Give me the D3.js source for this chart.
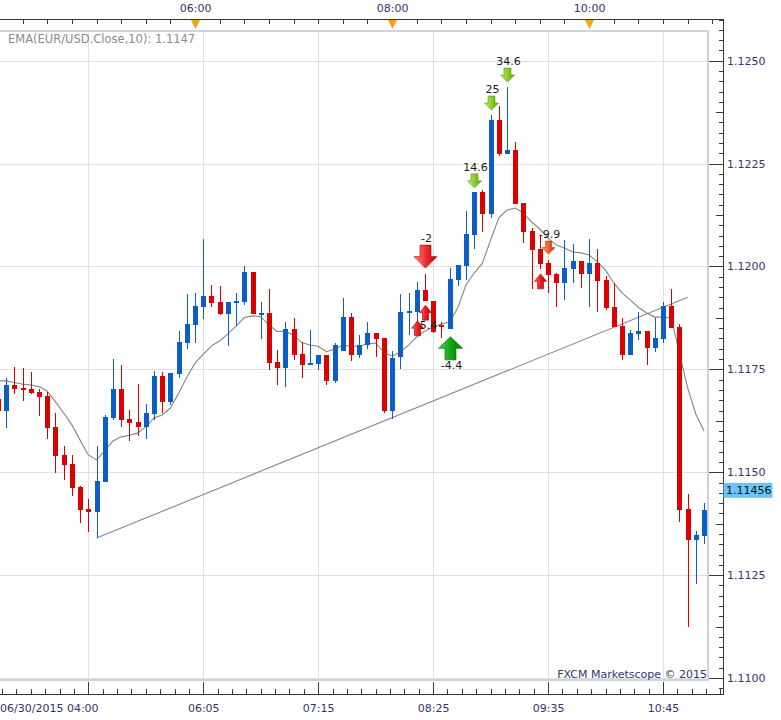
<!DOCTYPE html>
<html>
<head>
<meta charset="utf-8">
<script src="https://cdn.jsdelivr.net/npm/d3@7"></script>
<style>
  body { margin: 0; background: #fff; }
  svg { display: block; font-family: "DejaVu Sans", Verdana, sans-serif; }
</style>
</head>
<body>
<div id="chart"></div>
<script>
// EUR/USD 5 minute candles, 06/30/2015 from 04:00
var startTime = "2015-06-30T04:00";

var opens = [1.11678, 1.11649, 1.11712, 1.11705, 1.11702, 1.11695, 1.11685, 1.11610, 1.11542, 1.11520,
  1.11464, 1.11411, 1.11403, 1.11476, 1.11632, 1.11702, 1.11629, 1.11622, 1.11610, 1.11641,
  1.11734, 1.11671, 1.11739, 1.11814, 1.11858, 1.11901, 1.11928, 1.11914, 1.11884, 1.11911,
  1.11914, 1.11987, 1.11882, 1.11887, 1.11768, 1.11753, 1.11848, 1.11787, 1.11761, 1.11763,
  1.11785, 1.11722, 1.11795, 1.11877, 1.11785, 1.11809, 1.11838, 1.11826, 1.11649, 1.11780,
  1.11887, 1.11889, 1.11943, 1.11916, 1.11858, 1.11848, 1.11967, 1.12001, 1.12076, 1.12181,
  1.12127, 1.12356, 1.12273, 1.12283, 1.12154, 1.12086, 1.12042, 1.12008, 1.11982, 1.11960,
  1.11994, 1.12013, 1.11982, 1.12008, 1.11967, 1.11901, 1.11855, 1.11785, 1.11836, 1.11843,
  1.11802, 1.11824, 1.11904, 1.11853, 1.11411, 1.11335, 1.11345];

var highs = [1.11685, 1.11729, 1.11756, 1.11753, 1.11744, 1.11702, 1.11695, 1.11644, 1.11564, 1.11542,
  1.11466, 1.11435, 1.11564, 1.11639, 1.11775, 1.11761, 1.11651, 1.11714, 1.11666, 1.11746,
  1.11744, 1.11741, 1.11843, 1.11933, 1.11936, 1.12067, 1.11955, 1.11953, 1.11914, 1.11936,
  1.12001, 1.11987, 1.11914, 1.11945, 1.11797, 1.11865, 1.11875, 1.11816, 1.11846, 1.11785,
  1.11785, 1.11814, 1.11923, 1.11887, 1.11833, 1.11865, 1.11838, 1.11826, 1.11795, 1.11933,
  1.11936, 1.11962, 1.11982, 1.11916, 1.11865, 1.11996, 1.12004, 1.12135, 1.12181, 1.12186,
  1.12368, 1.12390, 1.12436, 1.12302, 1.12154, 1.12093, 1.12076, 1.12016, 1.11984, 1.12064,
  1.12055, 1.12013, 1.12067, 1.12042, 1.11977, 1.11960, 1.11875, 1.11846, 1.11889, 1.11843,
  1.11875, 1.11914, 1.11945, 1.11860, 1.11447, 1.11357, 1.11425];

var lows = [1.11644, 1.11607, 1.11690, 1.11673, 1.11690, 1.11637, 1.11581, 1.11498, 1.11481, 1.11442,
  1.11377, 1.11355, 1.11340, 1.11476, 1.11627, 1.11610, 1.11576, 1.11588, 1.11581, 1.11627,
  1.11644, 1.11663, 1.11729, 1.11799, 1.11814, 1.11872, 1.11901, 1.11882, 1.11807, 1.11855,
  1.11906, 1.11884, 1.11824, 1.11748, 1.11712, 1.11707, 1.11773, 1.11729, 1.11761, 1.11748,
  1.11712, 1.11717, 1.11795, 1.11770, 1.11778, 1.11799, 1.11780, 1.11644, 1.11629, 1.11751,
  1.11833, 1.11833, 1.11916, 1.11838, 1.11826, 1.11848, 1.11953, 1.11967, 1.12042, 1.12084,
  1.12118, 1.12268, 1.12273, 1.12152, 1.12057, 1.11945, 1.11994, 1.11936, 1.11901, 1.11919,
  1.11960, 1.11948, 1.11901, 1.11889, 1.11894, 1.11853, 1.11773, 1.11785, 1.11821, 1.11761,
  1.11792, 1.11814, 1.11850, 1.11379, 1.11124, 1.11228, 1.11326];

var closes = [1.11649, 1.11712, 1.11702, 1.11700, 1.11692, 1.11683, 1.11607, 1.11539, 1.11518, 1.11462,
  1.11408, 1.11403, 1.11479, 1.11634, 1.11702, 1.11627, 1.11620, 1.11610, 1.11644, 1.11734,
  1.11671, 1.11741, 1.11816, 1.11860, 1.11904, 1.11928, 1.11911, 1.11884, 1.11914, 1.11916,
  1.11987, 1.11884, 1.11887, 1.11765, 1.11753, 1.11848, 1.11785, 1.11761, 1.11765, 1.11785,
  1.11722, 1.11809, 1.11877, 1.11785, 1.11809, 1.11838, 1.11824, 1.11649, 1.11778, 1.11889,
  1.11892, 1.11943, 1.11916, 1.11841, 1.11853, 1.11970, 1.12004, 1.12079, 1.12181, 1.12127,
  1.12356, 1.12273, 1.12283, 1.12152, 1.12084, 1.12040, 1.12006, 1.11979, 1.11960, 1.11996,
  1.12013, 1.11982, 1.12008, 1.11965, 1.11899, 1.11853, 1.11785, 1.11838, 1.11843, 1.11802,
  1.11826, 1.11904, 1.11850, 1.11408, 1.11335, 1.11347, 1.11408];

// EMA(10) of close
var ema10 = [1.11722, 1.11722, 1.11718, 1.11714, 1.11712, 1.11708, 1.11697, 1.11671, 1.11644, 1.11615,
  1.11578, 1.11542, 1.11530, 1.11552, 1.11576, 1.11586, 1.11590, 1.11595, 1.11610, 1.11632,
  1.11639, 1.11656, 1.11692, 1.11731, 1.11765, 1.11787, 1.11807, 1.11819, 1.11836, 1.11855,
  1.11876, 1.11880, 1.11878, 1.11858, 1.11842, 1.11843, 1.11833, 1.11815, 1.11809, 1.11806,
  1.11793, 1.11799, 1.11809, 1.11806, 1.11806, 1.11812, 1.11814, 1.11792, 1.11782, 1.11792,
  1.11809, 1.11829, 1.11843, 1.11853, 1.11860, 1.11865, 1.11899, 1.11955, 1.11984, 1.12008,
  1.12064, 1.12118, 1.12137, 1.12142, 1.12130, 1.12108, 1.12091, 1.12069, 1.12052, 1.12045,
  1.12035, 1.12033, 1.12028, 1.12011, 1.11991, 1.11960, 1.11936, 1.11919, 1.11901, 1.11887,
  1.11877, 1.11877, 1.11875, 1.11790, 1.11705, 1.11641, 1.11600];

// trend line: bar index and price at both ends
var trendBars = [12, 84];
var trendPrices = [1.11340, 1.11925];

// signal arrows (price = arrow tip)
var signals = [
  { bar: 52, dir: "down", kind: "bigRed", price: 1.11996, label: "-2" },
  { bar: 52, dir: "up", kind: "smallRed", price: 1.11906, label: "-5.4" },
  { bar: 51, dir: "up", kind: "smallRed", price: 1.11868, label: "" },
  { bar: 55, dir: "up", kind: "bigGreen", price: 1.11829, label: "-4.4" },
  { bar: 58, dir: "down", kind: "lightGreen", price: 1.12191, label: "14.6" },
  { bar: 60, dir: "down", kind: "lightGreen", price: 1.12380, label: "25" },
  { bar: 62, dir: "down", kind: "lightGreen", price: 1.12448, label: "34.6" },
  { bar: 67, dir: "down", kind: "smallOrange", price: 1.12030, label: "-9.9" },
  { bar: 66, dir: "up", kind: "smallRed", price: 1.11982, label: "" }
];

var yLabelTicks = [1.1100, 1.1125, 1.1150, 1.1175, 1.1200, 1.1225, 1.1250];
var topLabelTicks = ["06:00", "08:00", "10:00"];
var bottomLabelTicks = ["04:55", "06:05", "07:15", "08:25", "09:35", "10:45"];
var firstDateLabel = "06/30/2015 04:00";
var lastPrice = 1.11456;
var emaLegend = "EMA(EUR/USD.Close,10): 1.1147";
var copyright = "FXCM Marketscope \u00a9 2015";

var W = 781, H = 720;
var plot = { left: 0, top: 31, right: 708, bottom: 680 };
var axisX = 723, topAxisY = 19, bottomAxisY = 694;
var blue = "#0b5fc4", red = "#dd0000", navy = "#35356b";

var parse = d3.utcParse("%Y-%m-%dT%H:%M");
var t0 = parse(startTime);
var day = startTime.slice(0, 11);
var times = opens.map(function (d, i) { return d3.utcMinute.offset(t0, 5 * i); });
var bars = opens.map(function (o, i) {
  return { t: times[i], o: o, h: highs[i], l: lows[i], c: closes[i], ema: ema10[i] };
});

var x = d3.scaleUtc()
  .domain([times[0], times[times.length - 1]])
  .range([-2, -2 + 8.21 * (times.length - 1)]);
var y = d3.scaleLinear().domain([1.1100, 1.1250]).range([678, 60.7]);

var svg = d3.select("#chart").append("svg")
  .attr("width", W)
  .attr("height", H);

var defs = svg.append("defs");
defs.append("clipPath").attr("id", "clip")
  .append("rect")
  .attr("x", plot.left).attr("y", plot.top)
  .attr("width", plot.right - plot.left).attr("height", plot.bottom - plot.top);

// arrow gradients
var arrowStyles = {
  bigRed: { w: 23, h: 23, sw: 11, stops: ["#ff8a8a", "#f03030", "#c40000"], stroke: "#b00000" },
  smallRed: { w: 12, h: 15, sw: 6, stops: ["#ff7070", "#e82020", "#b80000"], stroke: "#a00000" },
  bigGreen: { w: 24, h: 23, sw: 11, stops: ["#4fd04f", "#13a813", "#007a00"], stroke: "#006600" },
  lightGreen: { w: 14, h: 14, sw: 7, stops: ["#c4ec6a", "#8ccc2c", "#5fa010"], stroke: "#5a9410" },
  smallOrange: { w: 13, h: 13, sw: 6, stops: ["#ffa070", "#f06030", "#cc3300"], stroke: "#b83000" }
};
Object.keys(arrowStyles).forEach(function (k) {
  var grad = defs.append("linearGradient").attr("id", "g-" + k)
    .attr("x1", "0").attr("x2", "1").attr("y1", "0").attr("y2", "0");
  arrowStyles[k].stops.forEach(function (c, i) {
    grad.append("stop").attr("offset", i / 2).attr("stop-color", c);
  });
});

// gridlines
var grid = svg.append("g").attr("stroke", "#e0e0e0").attr("stroke-width", 1).attr("shape-rendering", "crispEdges");
grid.selectAll("line.h").data(yLabelTicks).join("line")
  .attr("x1", plot.left).attr("x2", plot.right)
  .attr("y1", function (d) { return Math.round(y(d)) + 0.5; })
  .attr("y2", function (d) { return Math.round(y(d)) + 0.5; });
var bottomTimes = bottomLabelTicks.map(function (s) { return parse(day + s); });
grid.selectAll("line.v").data(bottomTimes).join("line")
  .attr("y1", plot.top).attr("y2", plot.bottom)
  .attr("x1", function (d) { return Math.round(x(d)) + 0.5; })
  .attr("x2", function (d) { return Math.round(x(d)) + 0.5; });

// plot frame
svg.append("rect")
  .attr("x", plot.left - 1).attr("y", plot.top)
  .attr("width", plot.right - plot.left + 1).attr("height", plot.bottom - plot.top)
  .attr("fill", "none").attr("stroke", "#cbd4e0").attr("stroke-width", 2);

var chart = svg.append("g").attr("clip-path", "url(#clip)");

// trend line
var trend = trendBars.map(function (b, i) { return { t: times[b], p: trendPrices[i] }; });
chart.append("path")
  .datum(trend)
  .attr("fill", "none")
  .attr("stroke", "#8484ac")
  .attr("stroke-width", 1.1)
  .attr("d", d3.line().x(function (d) { return x(d.t); }).y(function (d) { return y(d.p); }));

// EMA line
chart.append("path")
  .datum(bars)
  .attr("fill", "none")
  .attr("stroke", "#858585")
  .attr("stroke-width", 1.1)
  .attr("d", d3.line().x(function (d) { return x(d.t); }).y(function (d) { return y(d.ema); }));

// candles
var candle = chart.append("g").attr("shape-rendering", "crispEdges")
  .selectAll("g").data(bars).join("g")
  .attr("fill", function (d) { return d.c >= d.o ? blue : red; })
  .attr("stroke", "none");
candle.append("rect")
  .attr("x", function (d) { return Math.round(x(d.t)); })
  .attr("width", 1)
  .attr("y", function (d) { return y(d.h); })
  .attr("height", function (d) { return Math.max(1, y(d.l) - y(d.h)); });
candle.append("rect")
  .attr("x", function (d) { return Math.round(x(d.t)) - 2; })
  .attr("width", 5)
  .attr("y", function (d) { return y(Math.max(d.o, d.c)); })
  .attr("height", function (d) { return Math.max(2, Math.abs(y(d.o) - y(d.c))); });

// signal arrows
function arrowPath(dir, st) {
  var hh = st.h / 2, s = dir === "down" ? 1 : -1;
  var pts = [[-st.sw / 2, -st.h], [st.sw / 2, -st.h], [st.sw / 2, -hh], [st.w / 2, -hh],
    [0, 0], [-st.w / 2, -hh], [-st.sw / 2, -hh]];
  return "M" + pts.map(function (p) { return p[0] + "," + (p[1] * s); }).join("L") + "Z";
}
var sigLayer = svg.append("g");
signals.forEach(function (d) {
  var st = arrowStyles[d.kind];
  var cx = Math.round(x(times[d.bar])) + 0.5, ty = y(d.price);
  sigLayer.append("path")
    .attr("transform", "translate(" + cx + "," + ty + ")")
    .attr("d", arrowPath(d.dir, st))
    .attr("fill", "url(#g-" + d.kind + ")")
    .attr("stroke", st.stroke)
    .attr("stroke-width", 0.6);
  if (d.label) {
    sigLayer.append("text")
      .attr("x", cx + 1)
      .attr("y", d.dir === "down" ? ty - st.h - 3 : ty + st.h + 9)
      .attr("text-anchor", "middle")
      .attr("font-size", "11px")
      .attr("fill", "#1a1a1a")
      .text(d.label);
  }
});

// axis frame lines
var frame = svg.append("g").attr("stroke", "#3a3a3a").attr("stroke-width", 1).attr("shape-rendering", "crispEdges");
frame.append("line").attr("x1", 0).attr("x2", axisX).attr("y1", topAxisY + 0.5).attr("y2", topAxisY + 0.5);
frame.append("line").attr("x1", 0).attr("x2", axisX).attr("y1", bottomAxisY + 0.5).attr("y2", bottomAxisY + 0.5);
frame.append("line").attr("x1", axisX + 0.5).attr("x2", axisX + 0.5).attr("y1", topAxisY).attr("y2", bottomAxisY + 1);

function styleAxis(g) {
  g.select(".domain").remove();
  g.selectAll(".tick line").attr("stroke", "#3a3a3a").attr("shape-rendering", "crispEdges");
  g.selectAll(".tick text").attr("fill", navy).attr("font-size", "11px")
    .attr("font-family", "'DejaVu Sans', Verdana, sans-serif");
}

// top axis
var fmt = d3.utcFormat("%H:%M");
var topMinor = d3.utcMinute.every(15).range(times[0], d3.utcMinute.offset(times[times.length - 1], 20))
  .filter(function (d) { return x(d) >= 0 && x(d) <= axisX; });
svg.append("g").attr("transform", "translate(0," + topAxisY + ")")
  .call(d3.axisTop(x).tickValues(topMinor).tickSizeInner(-5).tickSizeOuter(0).tickFormat(""))
  .call(styleAxis);
var topTimes = topLabelTicks.map(function (s) { return parse(day + s); });
svg.append("g").attr("transform", "translate(0," + topAxisY + ")")
  .call(d3.axisTop(x).tickValues(topTimes).tickSize(0).tickPadding(7).tickFormat(fmt))
  .call(styleAxis);
svg.append("g").selectAll("path").data(topTimes).join("path")
  .attr("d", function (d) {
    var cx = Math.round(x(d)) + 0.5;
    return "M" + (cx - 4.5) + "," + (topAxisY + 1) + "L" + (cx + 4.5) + "," + (topAxisY + 1) + "L" + cx + "," + (topAxisY + 10) + "Z";
  })
  .attr("fill", "#f5a31a");

// bottom axis (first major tick carries the date label at the left edge instead)
var step = 70 / 8;
var bottomMinor = d3.range(-8, 48).map(function (k) { return d3.utcSecond.offset(bottomTimes[0], Math.round(k * step * 60)); })
  .filter(function (d) { return x(d) >= 0 && x(d) <= axisX; });
svg.append("g").attr("transform", "translate(0," + bottomAxisY + ")")
  .call(d3.axisBottom(x).tickValues(bottomMinor).tickSizeInner(-5).tickSizeOuter(0).tickFormat(""))
  .call(styleAxis);
svg.append("g").attr("transform", "translate(0," + bottomAxisY + ")")
  .call(d3.axisBottom(x).tickValues(bottomTimes).tickSizeInner(-12).tickSizeOuter(0).tickPadding(10)
    .tickFormat(function (d, i) { return i === 0 ? "" : fmt(d); }))
  .call(styleAxis);
svg.append("text")
  .attr("x", 0).attr("y", bottomAxisY + 18)
  .attr("font-size", "11px").attr("fill", navy)
  .text(firstDateLabel);

// right price axis
var allTicks = d3.range(0, 66).map(function (k) { return +(1.10975 + k * 0.00025).toFixed(5); });
var midTicks = yLabelTicks.slice(0, -1).map(function (d) { return +(d + 0.00125).toFixed(5); });
svg.append("g").attr("transform", "translate(" + axisX + ",0)")
  .call(d3.axisRight(y).tickValues(allTicks).tickSizeInner(-4).tickSizeOuter(0).tickFormat(""))
  .call(styleAxis);
svg.append("g").attr("transform", "translate(" + axisX + ",0)")
  .call(d3.axisRight(y).tickValues(midTicks).tickSizeInner(-7).tickSizeOuter(0).tickFormat(""))
  .call(styleAxis);
svg.append("g").attr("transform", "translate(" + axisX + ",0)")
  .call(d3.axisRight(y).tickValues(yLabelTicks).tickSizeInner(-14).tickSizeOuter(0).tickPadding(4).tickFormat(d3.format(".4f")))
  .call(styleAxis);

// last price marker
var lp = svg.append("g").attr("transform", "translate(" + axisX + "," + y(lastPrice) + ")");
lp.append("rect").attr("x", 0.5).attr("y", -7.5).attr("width", 49).attr("height", 15).attr("fill", "#66c6f6");
lp.append("text").attr("x", 3).attr("y", 4).attr("font-size", "11px").attr("fill", "#111")
  .text(d3.format(".5f")(lastPrice));

// legend and copyright
svg.append("text").attr("x", 8).attr("y", 43)
  .attr("font-size", "11.5px").attr("fill", "#8a8a8a")
  .text(emaLegend);
svg.append("text").attr("x", plot.right - 1).attr("y", 678)
  .attr("text-anchor", "end").attr("font-size", "11px").attr("fill", navy)
  .text(copyright);
</script>
</body>
</html>
